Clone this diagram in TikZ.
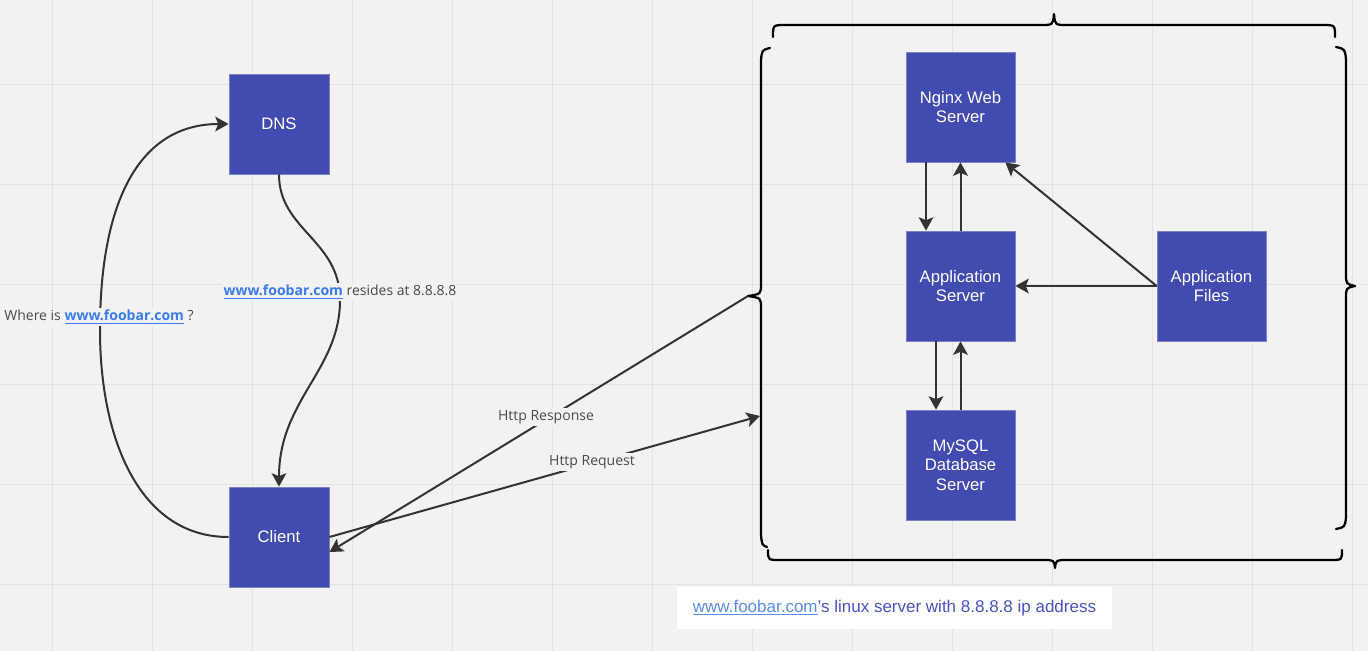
\documentclass[tikz,border=0pt]{standalone}
\usepackage{fontspec}
\setmainfont{Liberation Sans}
\newfontfamily\labelfont{Open Sans}
\usepackage{tikz}
\usetikzlibrary{calc}
\usetikzlibrary{arrows.meta}
\usetikzlibrary{positioning}

\definecolor{boardbg}{HTML}{F2F2F2}
\definecolor{gridline}{HTML}{E3E3E3}
\definecolor{boxblue}{HTML}{424BB0}
\definecolor{linkblue}{HTML}{3B7BF0}
\definecolor{captionblue}{HTML}{4A52BE}
\definecolor{captionlink}{HTML}{5A8CEE}
\definecolor{wire}{HTML}{333333}
\definecolor{labelgray}{HTML}{4A4A4A}

\newcommand{\weblink}[1]{{\color{linkblue}\bfseries\underline{#1}}}

\tikzset{>={Stealth[length=10pt,width=11pt,inset=2.2pt]}}
\tikzset{edge/.style = {->, draw=wire, line width=1.5pt}}
\tikzset{serverbox/.style = {fill=boxblue, draw=boxblue!70!white, line width=0.6pt, text=white,
  minimum width=81.75pt, minimum height=82.5pt, inner sep=0pt, align=center,
  font=\fontsize{12.5}{14.5}\selectfont}}
\tikzset{hostbox/.style = {serverbox, minimum width=75pt, minimum height=75pt}}
\tikzset{wirelabel/.style = {fill=boardbg, text=labelgray, inner sep=1.5pt,
  font=\labelfont\fontsize{10.5}{12}\selectfont}}
\tikzset{brace/.style = {draw=black, line width=1.7pt, line cap=round, line join=round}}

\begin{document}
\begin{tikzpicture}[x=0.75pt, y=-0.75pt]
    \useasboundingbox (0,0) rectangle (1368,651);
    \fill[boardbg] (0,0) rectangle (1368,651);

    % board grid
    \foreach \gx in {52,152,...,1352}
        \draw[gridline, line width=0.75pt] (\gx,0) -- (\gx,651);
    \foreach \gy in {84,184,...,584}
        \draw[gridline, line width=0.75pt] (0,\gy) -- (1368,\gy);

    % left side: client and dns
    \node[hostbox] (dns) at (279,124) {DNS};
    \node[hostbox] (client) at (279,537) {Client};

    % right side: the server
    \node[serverbox] (nginx) at (960.5,107) {Nginx Web\\Server};
    \node[serverbox] (app) at (960.5,286) {Application\\Server};
    \node[serverbox] (mysql) at (960.5,465) {MySQL\\Database\\Server};
    \node[serverbox] (files) at (1211.5,286) {Application\\Files};

    % braces round the server
    \draw[brace] (773,37) .. controls (773,25) .. (785,25) -- (1041,25)
        .. controls (1053,25) .. (1054,14) .. controls (1055,25) .. (1067,25)
        -- (1323,25) .. controls (1335,25) .. (1335,37);
    \draw[brace] (770,48) .. controls (762,50) .. (761,60) -- (761,284)
        .. controls (761,294) .. (748,296) .. controls (761,298) .. (761,308)
        -- (761,535) .. controls (762,545) .. (767,547);
    \draw[brace] (1336,47) .. controls (1345,49) .. (1346,60) -- (1346,274)
        .. controls (1346,284) .. (1355,286) .. controls (1346,288) .. (1346,298)
        -- (1346,517) .. controls (1345,527) .. (1336,529);
    \draw[brace] (768,550) .. controls (768,560) .. (780,560) -- (1043,560)
        .. controls (1054,560) .. (1055,568) .. controls (1056,560) .. (1067,560)
        -- (1330,560) .. controls (1342,560) .. (1342,550);
    \coordinate (bracetip) at (748,296);
    \coordinate (braceside) at (760,416);

    % Where is the domain?
    \draw[edge] (client.west) .. controls (140,537) and (100,440) .. (100,330)
        .. controls (100,200) and (140,124) .. (dns.west);

    % dns answers
    \draw[edge] (dns.south) .. controls (279,230) and (340,240) .. (340,300)
        .. controls (340,370) and (279,400) .. (client.north);

    % Http request and response
    \draw[edge] ($(client.east)$) -- (braceside);
    \draw[edge] (bracetip) -- ($(client.east)+(0,15)$);

    % inside the server
    \draw[edge] ($(nginx.south)+(-34.5,0)$) -- ($(app.north)+(-34.5,0)$);
    \draw[edge] (app.north) -- (nginx.south);
    \draw[edge] ($(app.south)+(-24.5,0)$) -- ($(mysql.north)+(-24.5,0)$);
    \draw[edge] (mysql.north) -- (app.south);
    \draw[edge] (files.west) -- (app.east);
    \draw[edge] (files.west) -- ($(nginx.south east)+(-10,0)$);

    % labels on the wires
    \node[wirelabel] (askdns) at (99,317) {Where is \weblink{www.foobar.com} ?};
    \node[wirelabel] (dnsanswer) at (340,292) {\weblink{www.foobar.com} resides at 8.8.8.8};
    \node[wirelabel] (response) at (546,417) {Http Response};
    \node[wirelabel] (request) at (592,462) {Http Request};

    % caption under the server
    \node[fill=white, minimum width=326.25pt, minimum height=31.5pt, text=captionblue,
        font=\fontsize{12.75}{15}\selectfont] (caption) at (894.5,608)
        {{\color{captionlink}\underline{www.foobar.com}}\char"0027 s linux server with 8.8.8.8 ip address};
\end{tikzpicture}
\end{document}
